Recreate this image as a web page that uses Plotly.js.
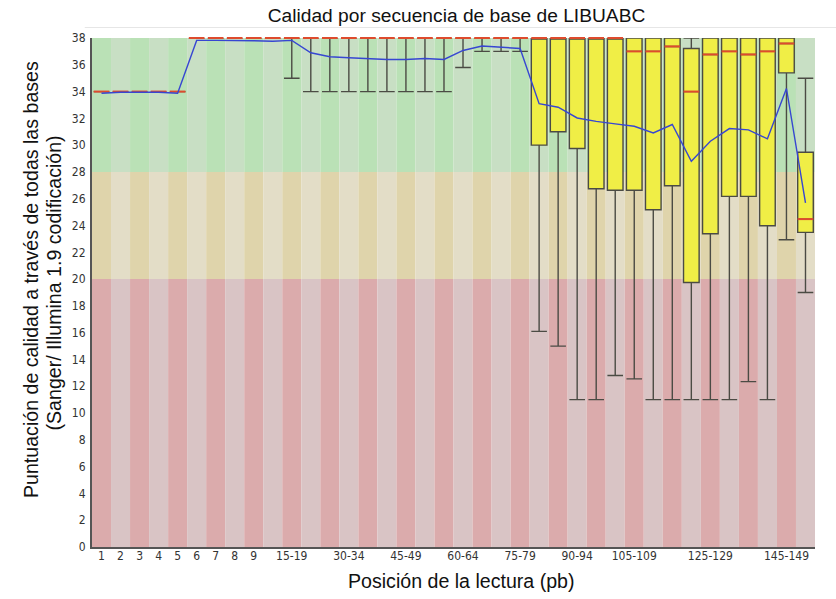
<!DOCTYPE html>
<html>
<head>
<meta charset="utf-8">
<script src="https://cdn.plot.ly/plotly-3.0.1.min.js"></script>
<style>
  html, body { margin: 0; padding: 0; background: #ffffff; }
  #chart { width: 836px; height: 599px; }
</style>
</head>
<body>
<div id="chart"></div>
<script>
// ---- data ----
const categories = ["1","2","3","4","5","6","7","8","9",
  "10-14","15-19","20-24","25-29","30-34","35-39","40-44","45-49","50-54","55-59",
  "60-64","65-69","70-74","75-79","80-84","85-89","90-94","95-99","100-104",
  "105-109","110-114","115-119","120-124","125-129","130-134","135-139","140-144",
  "145-149","150-151"];

const lowerWhisker = [34,34,34,34,34, 38,38,38,38, 38,35,34,34,34,34,34,34,34,34,
  35.8,37,37,37, 16.1,15.0,11,11,12.8, 12.55,11,11,11,11,11,12.35,11, 22.94,19.0];
const lowerQuartile = [34,34,34,34,34, 38,38,38,38, 38,38,38,38,38,38,38,38,38,38,
  38,38,38,38, 30,31,29.75,26.75,26.63, 26.63,25.18,26.97,19.75,23.39,26.18,26.18,23.98, 35.4,23.49];
const medianValue = [34,34,34,34,34, 38,38,38,38, 38,38,38,38,38,38,38,38,38,38,
  38,38,38,38, 38,38,38,38,38, 37,37,37.37,34,36.77,37,36.77,37, 37.59,24.48];
const upperQuartile = [34,34,34,34,34, 38,38,38,38, 38,38,38,38,38,38,38,38,38,38,
  38,38,38,38, 38,38,38,38,38, 38,38,38,37.22,38,38,38,38, 38,29.47];
const upperWhisker = [34,34,34,34,34, 38,38,38,38, 38,38,38,38,38,38,38,38,38,38,
  38,38,38,38, 38,38,38,38,38, 38,38,38,38,38,38,38,38, 38,35];
const meanValue = [33.88,33.95,33.95,33.95,33.88, 37.82,37.82,37.82,37.8, 37.76,37.82,
  36.9,36.6,36.52,36.45,36.4,36.4,36.47,36.4, 37.07,37.4,37.32,37.22,
  33.1,32.83,32.03,31.78,31.59, 31.41,30.91,31.54,28.8,30.29,31.24,31.14,30.47, 34.23,25.7];

const tickLabels = ["1","2","3","4","5","6","7","8","9","15-19","30-34","45-49",
  "60-64","75-79","90-94","105-109","125-129","145-149"];
const yTicks = [0,2,4,6,8,10,12,14,16,18,20,22,24,26,28,30,32,34,36,38];

// zones: [from, to, darkColour, lightColour]
const zones = [
  [28, 38, "rgb(186,225,182)", "rgb(200,223,196)"],
  [20, 28, "rgb(223,212,171)", "rgb(227,221,199)"],
  [0, 20, "rgb(219,171,172)", "rgb(217,196,197)"]
];

// ---- background stripes ----
const shapes = [];
categories.forEach((c, i) => {
  zones.forEach(z => {
    shapes.push({
      type: "rect", xref: "x", yref: "y", layer: "below",
      x0: i - 0.5, x1: i + 0.5, y0: z[0], y1: z[1],
      fillcolor: i % 2 === 0 ? z[2] : z[3], line: { width: 0 }
    });
  });
});
// faint line above the plot
shapes.push({ type: "line", xref: "paper", yref: "paper",
  x0: -0.01, x1: 1.03, y0: 1.0206, y1: 1.0206, line: { color: "#e6e6e6", width: 1 } });

const boxTrace = {
  type: "box", x: categories,
  q1: lowerQuartile, median: medianValue, q3: upperQuartile,
  lowerfence: lowerWhisker, upperfence: upperWhisker,
  boxpoints: false, width: 0.82, whiskerwidth: 1,
  fillcolor: "rgb(240,238,70)",
  line: { color: "rgb(75,75,68)", width: 1.4 },
  hoverinfo: "skip", showlegend: false
};

const medianTrace = {
  type: "scatter", mode: "markers", x: categories, y: medianValue,
  marker: { symbol: "line-ew", size: 11.2, line: { color: "rgb(222,75,45)", width: 2 } },
  cliponaxis: false, hoverinfo: "skip", showlegend: false
};

const meanTrace = {
  type: "scatter", mode: "lines", x: categories, y: meanValue,
  line: { color: "rgb(55,70,210)", width: 1.4 },
  cliponaxis: false, hoverinfo: "skip", showlegend: false
};

const tickFont = { family: "'DejaVu Sans Condensed', 'DejaVu Sans', sans-serif", size: 12, color: "#333333" };
const labelFont = { family: "'Liberation Sans', Arial, sans-serif", size: 19.6, color: "#111111" };
const titleFont = { family: "'Liberation Sans', Arial, sans-serif", size: 19.2, color: "#111111" };

const layout = {
  width: 836, height: 599,
  margin: { l: 92, r: 21, t: 38, b: 52 },
  paper_bgcolor: "#ffffff", plot_bgcolor: "#ffffff",
  title: { text: "Calidad por secuencia de base de LIBUABC", font: titleFont,
    x: 456.5 / 836, xanchor: "center", xref: "container",
    y: 1 - 15 / 599, yanchor: "middle", yref: "container" },
  xaxis: {
    type: "category", categoryorder: "array", categoryarray: categories,
    range: [-0.5, categories.length - 0.5],
    tickmode: "array", tickvals: tickLabels, ticktext: tickLabels,
    ticks: "", showgrid: false, zeroline: false,
    showline: true, linecolor: "#555555", linewidth: 2,
    tickfont: tickFont, ticklabelstandoff: -3
  },
  yaxis: {
    range: [0, 38], tickmode: "array", tickvals: yTicks, ticktext: yTicks.map(String),
    ticks: "", showgrid: false, zeroline: false,
    showline: true, linecolor: "#555555", linewidth: 2,
    tickfont: tickFont, ticklabelstandoff: 2
  },
  shapes: shapes,
  annotations: [
    { text: "Puntuación de calidad a través de todas las bases", textangle: -90,
      xref: "paper", yref: "paper", x: (31 - 92) / 723, y: (547 - 280) / 509,
      xanchor: "center", yanchor: "middle", showarrow: false, font: labelFont },
    { text: "(Sanger/ Illumina 1.9 codificación)", textangle: -90,
      xref: "paper", yref: "paper", x: (53 - 92) / 723, y: (547 - 283.5) / 509,
      xanchor: "center", yanchor: "middle", showarrow: false, font: labelFont },
    { text: "Posición de la lectura (pb)",
      xref: "paper", yref: "paper", x: (462 - 92) / 723, y: (547 - 581) / 509,
      xanchor: "center", yanchor: "middle", showarrow: false, font: labelFont }
  ],
  showlegend: false
};

Plotly.newPlot("chart", [boxTrace, medianTrace, meanTrace], layout, { displayModeBar: false, staticPlot: true });
</script>
</body>
</html>
